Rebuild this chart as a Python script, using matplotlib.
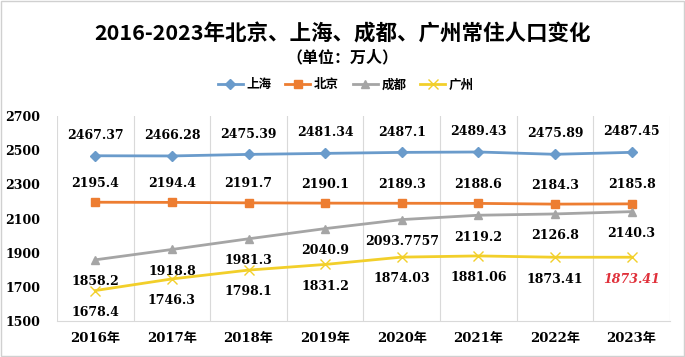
import matplotlib
matplotlib.use("Agg")
import matplotlib.pyplot as plt

years = ["2016年", "2017年", "2018年", "2019年", "2020年", "2021年", "2022年", "2023年"]
shanghai = [2467.37, 2466.28, 2475.39, 2481.34, 2487.1, 2489.43, 2475.89, 2487.45]
beijing = [2195.4, 2194.4, 2191.7, 2190.1, 2189.3, 2188.6, 2184.3, 2185.8]
chengdu = [1858.2, 1918.8, 1981.3, 2040.9, 2093.7757, 2119.2, 2126.8, 2140.3]
guangzhou = [1678.4, 1746.3, 1798.1, 1831.2, 1874.03, 1881.06, 1873.41, 1873.41]
chengdu_labels = ["1858.2", "1918.8", "1981.3", "2040.9", "2093.7757", "2119.2", "2126.8", "2140.3"]
shanghai_labels = ["2467.37", "2466.28", "2475.39", "2481.34", "2487.1", "2489.43", "2475.89", "2487.45"]
beijing_labels = ["2195.4", "2194.4", "2191.7", "2190.1", "2189.3", "2188.6", "2184.3", "2185.8"]
guangzhou_labels = ["1678.4", "1746.3", "1798.1", "1831.2", "1874.03", "1881.06", "1873.41", "1873.41"]
yticks = [1500, 1700, 1900, 2100, 2300, 2500, 2700]

CJK = ["Noto Sans CJK SC", "DejaVu Sans"]
SERIF = ["DejaVu Serif", "Noto Sans CJK SC"]

fig = plt.figure(figsize=(6.85, 3.57), dpi=100)
fig.patch.set_facecolor("white")
ax = fig.add_axes([0.0832, 0.1008, 0.8948, 0.5742])

x = list(range(len(years)))
series = [
    ("上海", shanghai, shanghai_labels, "#6a9bcb", "D", 5, 1, 10),
    ("北京", beijing, beijing_labels, "#ed7d31", "s", 6, 1, 9),
    ("成都", chengdu, chengdu_labels, "#a5a5a5", "^", 6, -1, 11),
    ("广州", guangzhou, guangzhou_labels, "#f2cf2a", "x", 7, -1, 11),
]
handles = []
for name, vals, labs, col, mk, ms, side, off in series:
    h, = ax.plot(x, vals, color=col, lw=2, marker=mk, markersize=ms,
                 markeredgecolor=col, markerfacecolor=col, label=name)
    handles.append(h)
    for i, (v, lab) in enumerate(zip(vals, labs)):
        color = "black"
        style = "normal"
        if name == "广州" and i == len(vals) - 1:
            color = "#e0303a"
            style = "italic"
        ax.annotate(lab, (i, v), xytext=(0, off * side), textcoords="offset points",
                    ha="center", va="bottom" if side > 0 else "top",
                    fontsize=9, fontweight="bold", family=SERIF,
                    color=color, style=style)

ax.set_xlim(-0.5, len(years) - 0.5)
ax.set_ylim(1500, 2700)
ax.set_yticks(yticks)
ax.set_yticklabels([str(t) for t in yticks], fontsize=9, fontweight="bold", family=SERIF)
ax.set_xticks(x)
ax.set_xticklabels(years, fontsize=9.5, fontweight="bold", family=SERIF)
ax.tick_params(axis="both", length=0)
ax.tick_params(axis="y", pad=12)
ax.tick_params(axis="x", pad=8)
for b in [i + 0.5 for i in range(-1, len(years))]:
    ax.axvline(b, color="#d9d9d9", lw=0.8, zorder=0)
for s in ["top", "right", "left"]:
    ax.spines[s].set_visible(False)
ax.spines["bottom"].set_color("#d9d9d9")

fig.text(0.5, 0.905, "2016-2023年北京、上海、成都、广州常住人口变化", ha="center", va="center",
         fontsize=15.5, fontweight="bold", family=CJK)
fig.text(0.5, 0.84, "（单位：万人）", ha="center", va="center",
         fontsize=11.5, fontweight="bold", family=CJK)

leg = fig.legend(handles=handles, loc="center", bbox_to_anchor=(0.505, 0.762), ncol=4,
                 frameon=False, prop={"family": CJK, "size": 9, "weight": "bold"},
                 handlelength=2.0, columnspacing=1.1, handletextpad=0.3)

fig.add_artist(plt.Rectangle((0.002, 0.003), 0.996, 0.994, transform=fig.transFigure,
                             fill=False, edgecolor="#d0d0d0", lw=1))

fig.savefig("out.png", dpi=100, facecolor="white")
